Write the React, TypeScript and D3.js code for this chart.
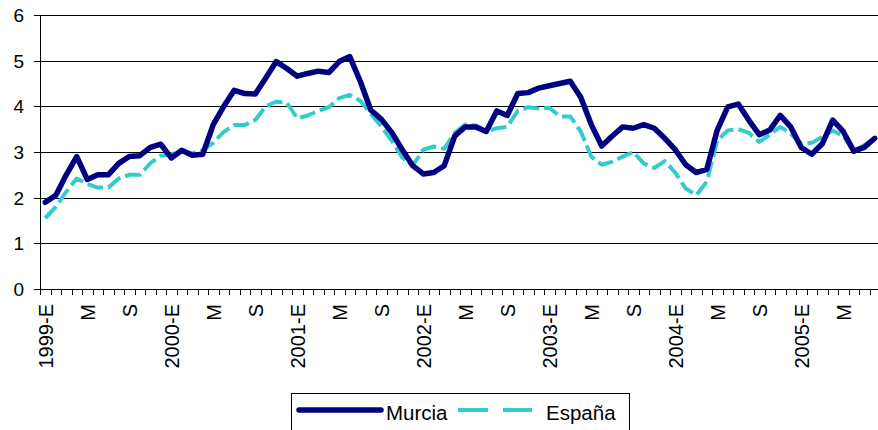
import React from "react";
import * as d3 from "d3";

const years = [1999, 2000, 2001, 2002, 2003, 2004, 2005];
const monthLetters = ["E", "F", "M", "A", "M", "J", "J", "A", "S", "O", "N", "D"];
const nMonths = 80;
const categories: string[] = d3.range(nMonths).map((i) => {
  const y = years[Math.floor(i / 12)];
  const m = i % 12;
  return m === 0 ? `${y}-E` : monthLetters[m];
});

const murcia = [
  1.9, 2.05, 2.5, 2.9, 2.4, 2.5, 2.5, 2.75, 2.9, 2.92, 3.1, 3.17,
  2.87, 3.04, 2.93, 2.95, 3.6, 4.0, 4.35, 4.28, 4.27, 4.62, 4.98, 4.83,
  4.66, 4.72, 4.77, 4.74, 4.98, 5.09, 4.55, 3.92, 3.72, 3.43, 3.05, 2.7,
  2.52, 2.55, 2.7, 3.35, 3.55, 3.55, 3.45, 3.9, 3.8, 4.28, 4.3, 4.4,
  4.45, 4.5, 4.55, 4.2, 3.6, 3.13, 3.35, 3.55, 3.52, 3.6, 3.52, 3.3,
  3.05, 2.72, 2.55, 2.62, 3.48, 3.99, 4.05, 3.7, 3.38, 3.48, 3.8, 3.55,
  3.1, 2.95, 3.18, 3.7, 3.45, 3.02, 3.1, 3.3,
];

const espana = [
  1.55, 1.8, 2.13, 2.42, 2.3, 2.22, 2.22, 2.42, 2.5, 2.5, 2.75, 2.92,
  2.95, 3.01, 2.97, 3.04, 3.2, 3.44, 3.59, 3.59, 3.7, 4.0, 4.1, 4.08,
  3.74, 3.8, 3.9, 3.98, 4.18, 4.25, 4.12, 3.84, 3.56, 3.25, 2.88, 2.7,
  3.05, 3.12, 3.07, 3.42, 3.6, 3.58, 3.45, 3.52, 3.55, 3.9, 3.98, 3.95,
  3.97, 3.78, 3.78, 3.45, 2.9, 2.72, 2.79, 2.9, 3.0, 2.75, 2.65, 2.8,
  2.55, 2.2, 2.05, 2.35, 3.25, 3.47, 3.5, 3.42, 3.22, 3.38, 3.55, 3.4,
  3.18, 3.2, 3.33, 3.47, 3.35, 3.02, 3.15, 3.3,
];

const yTicks = [0, 1, 2, 3, 4, 5, 6];
const seriesNames = ["Murcia", "España"];

const W = 878;
const H = 430;
const left = 40;
const right = 880;
const top = 15;
const bottom = 289;
const FONT = "Arial, 'Liberation Sans', sans-serif";
const NAVY = "#000080";
const TEAL = "#33CCCC";

export default function App() {
  const x = d3
    .scaleBand<number>()
    .domain(d3.range(nMonths))
    .range([left, right])
    .paddingInner(0)
    .paddingOuter(0);
  const bw = x.bandwidth();
  const cx = (i: number) => (x(i) as number) + bw / 2;
  const y = d3.scaleLinear().domain([0, 6]).range([bottom, top]);

  const line = d3
    .line<number>()
    .x((_, i) => cx(i))
    .y((d) => y(d));

  const tickXs = d3.range(nMonths + 1).map((i) => left + i * bw);

  return (
    <div style={{ position: "absolute", left: 0, top: 0, width: W, height: H, overflow: "hidden" }}>
      <svg width={W} height={H} style={{ display: "block", background: "#fff" }} fontFamily={FONT}>
        {/* grid lines & y ticks */}
        {yTicks.map((t) => (
          <g key={t}>
            <line
              x1={left - 6}
              x2={W}
              y1={Math.round(y(t)) + 0.5}
              y2={Math.round(y(t)) + 0.5}
              stroke="#000"
              strokeWidth={1}
            />
            <text x={24} y={y(t)} dy="0.36em" textAnchor="end" fontSize={19} fill="#000">
              {t}
            </text>
          </g>
        ))}
        {/* y axis */}
        <line x1={left + 0.5} x2={left + 0.5} y1={top} y2={bottom + 1} stroke="#000" strokeWidth={1} />
        {/* x ticks */}
        {tickXs.map((tx, i) => (
          <line
            key={i}
            x1={Math.round(tx) + 0.5}
            x2={Math.round(tx) + 0.5}
            y1={bottom}
            y2={bottom + 6}
            stroke="#000"
            strokeWidth={1}
          />
        ))}
        {/* x labels */}
        {categories.map((c, i) =>
          i % 4 === 0 ? (
            <text
              key={i}
              transform={`translate(${cx(i) + 1},${bottom + 15}) rotate(-90)`}
              dy="0.36em"
              textAnchor="end"
              fontSize={20}
              fill="#000"
            >
              {c}
            </text>
          ) : null
        )}
        {/* series */}
        <path
          d={line(espana) || ""}
          fill="none"
          stroke={TEAL}
          strokeWidth={4}
          strokeDasharray="16 5"
          strokeLinejoin="round"
        />
        <path
          d={line(murcia) || ""}
          fill="none"
          stroke={NAVY}
          strokeWidth={5.5}
          strokeLinejoin="round"
          strokeLinecap="round"
        />
        {/* legend */}
        <rect x={291.5} y={393.5} width={338} height={60} fill="#fff" stroke="#000" strokeWidth={1} />
        <line x1={299} x2={381} y1={410} y2={410} stroke={NAVY} strokeWidth={5.5} strokeLinecap="round" />
        <text x={386} y={420} fontSize={20.5} fill="#000">
          {seriesNames[0]}
        </text>
        <line x1={458} x2={488} y1={410} y2={410} stroke={TEAL} strokeWidth={4} />
        <line x1={503} x2={532} y1={410} y2={410} stroke={TEAL} strokeWidth={4} />
        <text x={546} y={420} fontSize={20.5} fill="#000">
          {seriesNames[1]}
        </text>
      </svg>
    </div>
  );
}
